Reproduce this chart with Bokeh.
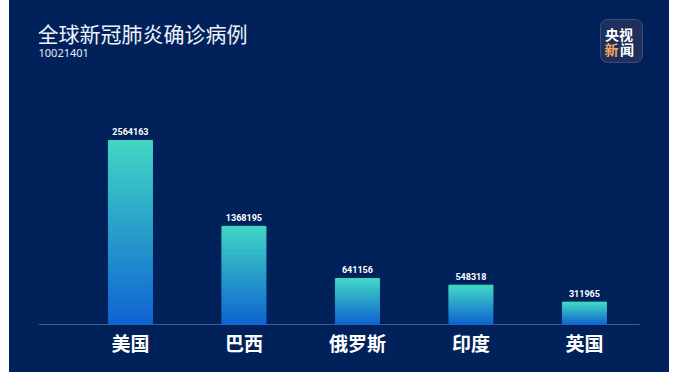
import numpy as np
from bokeh.plotting import figure
from bokeh.layouts import row
from bokeh.models import ColumnDataSource, Range1d, FixedTicker, Label, BoxAnnotation, Spacer
from bokeh.core.properties import value
from bokeh.embed import file_html
from bokeh.resources import INLINE

# ---- data ----
categories = ["美国", "巴西", "俄罗斯", "印度", "英国"]
cases = [2564163, 1368195, 641156, 548318, 311965]
title_text = "全球新冠肺炎确诊病例"
subtitle_text = "10021401"

# ---- styling / layout ----
BG = "#01215a"
TOP_RGB = np.array([66, 215, 197])
BOT_RGB = np.array([15, 99, 209])
PAD = 9                     # white strip on the left
W, H = 660, 372
ML, MR, MB = 29, 24, 48
PX_PER_UNIT = 113.5
X0 = -0.81
X1 = X0 + (W - ML - MR) / PX_PER_UNIT
Y1 = 4.515e6
FRAME_H = H - MB            # frame top is at page y 0

def fx(px):  # page x -> data x
    return X0 + (px - 38) / PX_PER_UNIT

def fy(py):  # page y -> data y
    return Y1 * (FRAME_H - py) / FRAME_H

p = figure(width=W, height=H, output_backend="svg", toolbar_location=None,
           x_range=Range1d(X0, X1), y_range=Range1d(0, Y1),
           min_border_left=ML, min_border_right=MR, min_border_top=0,
           min_border_bottom=MB)
p.styles = {"background-color": BG}
p.background_fill_color = None
p.border_fill_color = None
p.outline_line_color = None
p.xgrid.visible = False
p.ygrid.visible = False
p.yaxis.visible = False

# baseline (axis line) spanning the plotting width
p.segment(x0=[fx(38)], y0=[0], x1=[fx(639)], y1=[0], line_color="#7f97c6", line_width=1)

# gradient bars: each bar sliced into thin pieces
N = 40
xs, bots, tops, cols = [], [], [], []
for i, v in enumerate(cases):
    for k in range(N):
        t = (k + 0.5) / N
        c = BOT_RGB + (TOP_RGB - BOT_RGB) * t
        xs.append(i)
        bots.append(v * k / N)
        tops.append(v * (k + 1) / N)
        cols.append("#%02x%02x%02x" % tuple(int(round(a)) for a in c))
src = ColumnDataSource(dict(x=xs, bottom=bots, top=tops, color=cols))
p.vbar(x="x", bottom="bottom", top="top", width=0.388, color="color", source=src)

vsrc = ColumnDataSource(dict(x=list(range(len(cases))), v=cases,
                             label=[str(c) for c in cases]))
p.text(x="x", y="v", text="label", source=vsrc, y_offset=-5,
       text_align="center", text_baseline="bottom",
       text_font=value("Roboto"), text_font_size="9px",
       text_font_style="bold", text_color="#ffffff")

ax = p.xaxis[0]
ax.ticker = FixedTicker(ticks=list(range(len(categories))))
ax.major_label_overrides = {i: c for i, c in enumerate(categories)}
ax.axis_line_color = None
ax.major_tick_line_color = None
ax.minor_tick_line_color = None
ax.major_label_standoff = -2
ax.major_label_text_font = "Noto Sans CJK SC"
ax.major_label_text_font_size = "19px"
ax.major_label_text_font_style = "bold"
ax.major_label_text_color = "#ffffff"

# titles
p.add_layout(Label(x=fx(37), y=fy(32), text=title_text, text_align="left",
                   text_baseline="middle", text_font="Noto Sans CJK SC",
                   text_font_size="21px", text_color="#eef2fa"))
p.add_layout(Label(x=fx(38), y=fy(52.5), text=subtitle_text, text_align="left",
                   text_baseline="middle", text_font="Noto Sans",
                   text_font_size="11px", text_color="#e6ecf7"))

# logo
p.add_layout(BoxAnnotation(left=fx(600), right=fx(642), top=fy(19), bottom=fy(62),
                           fill_color="#1e2f5c", fill_alpha=1.0,
                           line_color="#98a4c4", line_width=1, border_radius=7))
p.add_layout(Label(x=fx(618.5), y=fy(33), text="央视", text_align="center",
                   text_baseline="middle", text_font="Noto Sans CJK SC",
                   text_font_size="14px", text_font_style="bold", text_color="#ffffff"))
p.add_layout(Label(x=fx(611), y=fy(48.5), text="新", text_align="center",
                   text_baseline="middle", text_font="Noto Sans CJK SC",
                   text_font_size="14px", text_font_style="bold", text_color="#f2a860"))
p.add_layout(Label(x=fx(626.5), y=fy(48.5), text="闻", text_align="center",
                   text_baseline="middle", text_font="Noto Sans CJK SC",
                   text_font_size="14px", text_font_style="bold", text_color="#ffffff"))

layout = row(Spacer(width=PAD, height=H), p)
open("out.html", "w").write(file_html(layout, INLINE))
